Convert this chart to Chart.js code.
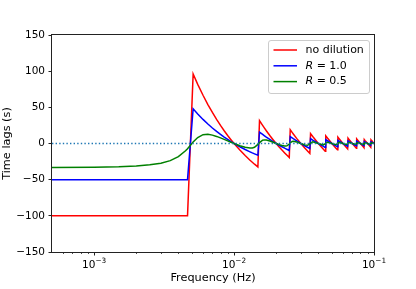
<!DOCTYPE html>
<html>
<head>
<meta charset="utf-8">
<script src="https://cdn.jsdelivr.net/npm/chart.js@4/dist/chart.umd.min.js"></script>
<style>
  html, body { margin: 0; padding: 0; background: #fff; }
  #wrap { width: 416px; height: 289px; }
</style>
</head>
<body>
<div id="wrap"><canvas id="myChart" width="416" height="289"></canvas></div>
<script>
// frequencies (Hz) shared by all three curves
var freq = [0.0005, 0.001, 0.0015, 0.002, 0.0025, 0.003, 0.0035, 0.004, 0.0045, 0.00465,
  0.0051, 0.0055, 0.006, 0.0065, 0.007, 0.0075, 0.008, 0.0085, 0.009, 0.0095, 0.01, 0.011, 0.012, 0.013, 0.0135, 0.014, 0.0148,
  0.0152, 0.016, 0.0165, 0.017, 0.018, 0.019, 0.02, 0.021, 0.022, 0.023, 0.0235, 0.024, 0.0248,
  0.0252, 0.026, 0.0265, 0.028, 0.03, 0.032, 0.0335, 0.0348,
  0.0352, 0.0365, 0.04, 0.0435, 0.0448,
  0.0452, 0.0465, 0.05, 0.0535, 0.0548,
  0.0552, 0.0565, 0.06, 0.0635, 0.0648,
  0.0652, 0.0665, 0.07, 0.0735, 0.0748,
  0.0752, 0.0765, 0.08, 0.0835, 0.0848,
  0.0852, 0.0865, 0.09, 0.0935, 0.0948,
  0.0952, 0.0965, 0.1];

// time lags (s)
var lagNoDilution = [-100, -100, -100, -100, -100, -100, -100, -100, -100, -100,
  96.1, 81.8, 66.7, 53.8, 42.9, 33.3, 25.0, 17.6, 11.1, 5.3, 0, -9.1, -16.7, -23.1, -25.9, -28.6, -32.4,
  31.6, 25.0, 21.2, 17.6, 11.1, 5.3, 0, -4.8, -9.1, -13.0, -14.9, -16.7, -19.4,
  19.0, 15.4, 13.2, 7.1, 0, -6.3, -10.4, -13.8,
  13.6, 9.6, 0, -8.0, -10.7,
  10.6, 7.5, 0, -6.5, -8.8,
  8.7, 6.2, 0, -5.5, -7.4,
  7.4, 5.3, 0, -4.8, -6.4,
  6.4, 4.6, 0, -4.2, -5.7,
  5.6, 4.0, 0, -3.7, -5.1,
  5.0, 3.6, 0];

var lagR10 = [-50, -50, -50, -50, -50, -50, -50, -50, -50, -50,
  48.0, 40.9, 33.3, 26.9, 21.4, 16.7, 12.5, 8.8, 5.6, 2.6, 0, -4.5, -8.3, -11.5, -13.0, -14.3, -16.2,
  15.8, 12.5, 10.6, 8.8, 5.6, 2.6, 0, -2.4, -4.5, -6.5, -7.4, -8.3, -9.7,
  9.5, 7.7, 6.6, 3.6, 0, -3.1, -5.2, -6.9,
  6.8, 4.8, 0, -4.0, -5.4,
  5.3, 3.8, 0, -3.3, -4.4,
  4.4, 3.1, 0, -2.8, -3.7,
  3.7, 2.6, 0, -2.4, -3.2,
  3.2, 2.3, 0, -2.1, -2.8,
  2.8, 2.0, 0, -1.9, -2.5,
  2.5, 1.8, 0];

var lagR05 = [-33.2, -32.8, -32.2, -31.1, -29.5, -27.2, -23.7, -18.2, -10.1, -7.2,
  2.0, 8.3, 12.2, 12.7, 11.6, 9.8, 7.8, 5.7, 3.6, 1.7, 0, -3.0, -5.2, -6.3, -6.1, -5.2, -1.3,
  1.3, 4.6, 5.0, 4.8, 3.5, 1.7, 0, -1.6, -2.8, -3.5, -3.5, -3.0, -0.8,
  0.8, 2.8, 3.1, 2.2, 0, -1.9, -2.5, -0.6,
  0.6, 2.3, 0, -1.9, -0.4,
  0.4, 1.8, 0, -1.6, -0.4,
  0.4, 1.5, 0, -1.3, -0.3,
  0.3, 1.3, 0, -1.1, -0.3,
  0.3, 1.1, 0, -1.0, -0.2,
  0.2, 1.0, 0, -0.9, -0.2,
  0.2, 0.9, 0];

var seriesLabels = ['no dilution', 'R = 1.0', 'R = 0.5'];
var seriesColors = ['#ff0000', '#0000ff', '#008000'];

var xRange = [0.0005, 0.1];
var xMajorTicks = [0.001, 0.01, 0.1];
var xTickBase = '10';
var xTickExponents = ['\u22123', '\u22122', '\u22121'];
var xMinorTicks = [0.0006, 0.0007, 0.0008, 0.0009,
  0.002, 0.003, 0.004, 0.005, 0.006, 0.007, 0.008, 0.009,
  0.02, 0.03, 0.04, 0.05, 0.06, 0.07, 0.08, 0.09];
var yTicks = [-150, -100, -50, 0, 50, 100, 150];

var FONT = 'DejaVu Sans';

function pts(ys) {
  return freq.map(function (f, i) { return { x: f, y: ys[i] }; });
}

// spines, minor ticks, 10^n labels and the legend box, drawn the matplotlib way
var mplExtras = {
  id: 'mplExtras',
  afterDraw: function (chart) {
    var ctx = chart.ctx, a = chart.chartArea, xs = chart.scales.x;
    ctx.save();
    // minor ticks on the log axis
    ctx.strokeStyle = '#222';
    ctx.lineWidth = 0.8;
    xMinorTicks.forEach(function (v) {
      var px = Math.round(xs.getPixelForValue(v)) + 0.5;
      ctx.beginPath();
      ctx.moveTo(px, a.bottom);
      ctx.lineTo(px, a.bottom + 2);
      ctx.stroke();
    });
    // 10^n tick labels with a raised exponent
    ctx.fillStyle = '#000';
    ctx.textBaseline = 'alphabetic';
    ctx.textAlign = 'left';
    xMajorTicks.forEach(function (v, i) {
      ctx.font = '10.5px "' + FONT + '"';
      var wb = ctx.measureText(xTickBase).width;
      ctx.font = '7.3px "' + FONT + '"';
      var we = ctx.measureText(xTickExponents[i]).width;
      var x0 = xs.getPixelForValue(v) - (wb + we) / 2;
      ctx.font = '10.5px "' + FONT + '"';
      ctx.fillText(xTickBase, x0, a.bottom + 15.5);
      ctx.font = '7.3px "' + FONT + '"';
      ctx.fillText(xTickExponents[i], x0 + wb, a.bottom + 10.5);
    });
    // frame
    ctx.strokeStyle = '#222';
    ctx.lineWidth = 1;
    ctx.strokeRect(a.left - 0.5, a.top - 0.5, a.right - a.left + 1, a.bottom - a.top + 1);

    // legend
    var bw = 101, bh = 53;
    var bx = a.right - 5 - bw, by = a.top + 5;
    ctx.beginPath();
    ctx.roundRect(bx + 0.5, by + 0.5, bw, bh, 2.5);
    ctx.fillStyle = 'rgba(255,255,255,0.8)';
    ctx.fill();
    ctx.strokeStyle = '#cccccc';
    ctx.lineWidth = 1;
    ctx.stroke();
    ctx.textBaseline = 'middle';
    seriesLabels.forEach(function (lab, i) {
      var cy = by + 10 + i * 15.8;
      ctx.strokeStyle = seriesColors[i];
      ctx.lineWidth = 1.5;
      ctx.beginPath();
      ctx.moveTo(bx + 5.5, cy);
      ctx.lineTo(bx + 29, cy);
      ctx.stroke();
      ctx.fillStyle = '#000';
      var tx = bx + 37.5;
      if (lab.indexOf('R ') === 0) {
        ctx.font = 'italic 11px "' + FONT + '"';
        ctx.fillText('R', tx, cy);
        tx += ctx.measureText('R').width;
        ctx.font = '11px "' + FONT + '"';
        ctx.fillText(lab.slice(1), tx, cy);
      } else {
        ctx.font = '11px "' + FONT + '"';
        ctx.fillText(lab, tx, cy);
      }
    });
    ctx.restore();
  }
};

var ctx = document.getElementById('myChart').getContext('2d');
var chart = new Chart(ctx, {
  type: 'line',
  data: {
    datasets: [
      { label: seriesLabels[0], data: pts(lagNoDilution), borderColor: seriesColors[0], borderWidth: 1.5, pointRadius: 0, order: 3 },
      { label: seriesLabels[1], data: pts(lagR10), borderColor: seriesColors[1], borderWidth: 1.5, pointRadius: 0, order: 2 },
      { label: seriesLabels[2], data: pts(lagR05), borderColor: seriesColors[2], borderWidth: 1.5, pointRadius: 0, order: 1 },
      { label: 'zero', data: [{ x: xRange[0], y: 0 }, { x: xRange[1], y: 0 }], borderColor: '#1f77b4',
        borderWidth: 1.4, borderDash: [1.4, 2.2], pointRadius: 0, order: 0 }
    ]
  },
  options: {
    responsive: false,
    animation: false,
    devicePixelRatio: 1,
    layout: { padding: { left: 0, right: 42, top: 35, bottom: 0 } },
    plugins: { legend: { display: false }, tooltip: { enabled: false } },
    elements: { line: { tension: 0 } },
    scales: {
      x: {
        type: 'logarithmic',
        min: xRange[0],
        max: xRange[1],
        afterBuildTicks: function (s) { s.ticks = xMajorTicks.map(function (v) { return { value: v }; }); },
        afterFit: function (s) { s.height = 37; },
        ticks: {
          autoSkip: false, maxRotation: 0, padding: 2, color: '#000',
          font: { family: FONT, size: 10.5 },
          callback: function () { return ''; }
        },
        grid: { drawOnChartArea: false, drawTicks: true, tickLength: 3.5, color: '#222' },
        border: { display: false },
        title: { display: true, text: 'Frequency (Hz)', color: '#000', font: { family: FONT, size: 11.3 }, padding: { top: 0, bottom: 4 } }
      },
      y: {
        type: 'linear',
        min: yTicks[0],
        max: yTicks[yTicks.length - 1],
        afterBuildTicks: function (s) { s.ticks = yTicks.map(function (v) { return { value: v }; }); },
        afterFit: function (s) { s.width = 52; },
        ticks: {
          padding: 3.5, color: '#000',
          font: { family: FONT, size: 10.5 },
          callback: function (v) { return v < 0 ? '\u2212' + Math.abs(v) : String(v); }
        },
        grid: { drawOnChartArea: false, drawTicks: true, tickLength: 3.5, color: '#222' },
        border: { display: false },
        title: { display: true, text: 'Time lags (s)', color: '#000', font: { family: FONT, size: 11.3 }, padding: { top: 0, bottom: 0 } }
      }
    }
  },
  plugins: [mplExtras]
});
</script>
</body>
</html>
